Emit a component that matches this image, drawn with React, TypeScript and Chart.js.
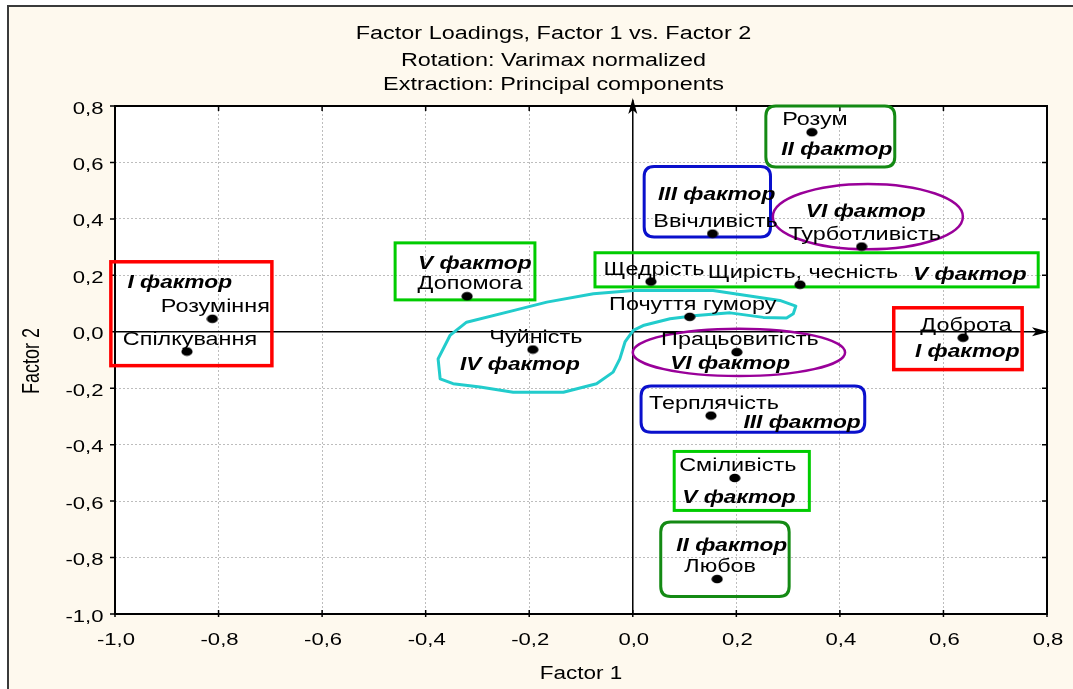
import React, { useEffect, useRef } from 'react';
import { Chart, registerables } from 'chart.js';

Chart.register(...registerables);

// ---------- data ----------
const traits = [
  'Розум', 'Ввічливість', 'Турботливість', 'Щедрість', 'Щирість, чесність',
  'Допомога', 'Розуміння', 'Спілкування', 'Почуття гумору', 'Чуйність',
  'Доброта', 'Працьовитість', 'Терплячість', 'Сміливість', 'Любов',
];
const factor1 = [0.346, 0.154, 0.442, 0.035, 0.323, -0.320, -0.812, -0.861, 0.110, -0.193, 0.638, 0.201, 0.151, 0.197, 0.163];
const factor2 = [0.707, 0.348, 0.302, 0.178, 0.167, 0.126, 0.046, -0.070, 0.053, -0.063, -0.021, -0.072, -0.297, -0.518, -0.876];

const axisMin = -1.0;
const axisMax = 0.8;
const tickStep = 0.2;

const titleLines = ['Factor Loadings, Factor 1 vs. Factor 2', 'Rotation: Varimax normalized', 'Extraction: Principal components'];
const xTitle = 'Factor 1';
const yTitle = 'Factor 2';

// ---------- annotations (data units) ----------
const boxes = [
  { color: '#ff0000', kind: 'rect', x1: -1.008, x2: -0.697, y1: 0.248, y2: -0.120, w: 3.5 },
  { color: '#00cc00', kind: 'rect', x1: -0.459, x2: -0.189, y1: 0.315, y2: 0.113, w: 3 },
  { color: '#00cc00', kind: 'rect', x1: -0.073, x2: 0.783, y1: 0.280, y2: 0.159, w: 3 },
  { color: '#ff0000', kind: 'rect', x1: 0.504, x2: 0.752, y1: 0.085, y2: -0.134, w: 3.5 },
  { color: '#00cc00', kind: 'rect', x1: 0.080, x2: 0.341, y1: -0.424, y2: -0.633, w: 3 },
  { color: '#0a10cc', kind: 'round', x1: 0.022, x2: 0.266, y1: 0.586, y2: 0.336, w: 3 },
  { color: '#148a14', kind: 'round', x1: 0.257, x2: 0.506, y1: 0.800, y2: 0.584, w: 3 },
  { color: '#0a10cc', kind: 'round', x1: 0.016, x2: 0.448, y1: -0.192, y2: -0.356, w: 3 },
  { color: '#148a14', kind: 'round', x1: 0.054, x2: 0.302, y1: -0.674, y2: -0.938, w: 3 },
];
const ellipses = [
  { color: '#990099', cx: 0.454, cy: 0.408, rx: 0.1835, ry: 0.116 },
  { color: '#990099', cx: 0.205, cy: -0.073, rx: 0.205, ry: 0.084 },
];
const blobX = [-0.372, -0.376, -0.353, -0.321, -0.231, -0.166, -0.076, 0.001, 0.155, 0.284, 0.315, 0.310, 0.297, 0.252, 0.188, 0.123, 0.072, 0.020, 0.001, -0.015, -0.025, -0.038, -0.070, -0.134, -0.231, -0.295, -0.347];
const blobY = [-0.167, -0.096, -0.013, 0.034, 0.075, 0.105, 0.135, 0.146, 0.146, 0.111, 0.091, 0.064, 0.049, 0.051, 0.067, 0.058, 0.046, 0.022, 0.005, -0.036, -0.096, -0.143, -0.184, -0.214, -0.214, -0.196, -0.184];
const factorTexts = [
  { text: 'I фактор', x: -0.875, y: 0.156 },
  { text: 'V фактор', x: -0.305, y: 0.223 },
  { text: 'V фактор', x: 0.651, y: 0.184 },
  { text: 'IV фактор', x: -0.218, y: -0.137 },
  { text: 'III фактор', x: 0.162, y: 0.468 },
  { text: 'VI фактор', x: 0.450, y: 0.406 },
  { text: 'II фактор', x: 0.394, y: 0.625 },
  { text: 'I фактор', x: 0.646, y: -0.090 },
  { text: 'VI фактор', x: 0.188, y: -0.131 },
  { text: 'III фактор', x: 0.327, y: -0.341 },
  { text: 'V фактор', x: 0.205, y: -0.606 },
  { text: 'II фактор', x: 0.191, y: -0.775 },
];

const FONT = '"Liberation Sans", Arial, sans-serif';
const SX = 1.3;

function sText(ctx: CanvasRenderingContext2D, text: string, x: number, y: number, font: string, align: CanvasTextAlign = 'center', sx = SX) {
  ctx.save();
  ctx.font = font;
  ctx.textAlign = align;
  ctx.textBaseline = 'alphabetic';
  ctx.fillStyle = '#000';
  ctx.translate(x, y);
  ctx.scale(sx, 1);
  ctx.fillText(text, 0, 0);
  ctx.restore();
}

function fmt(v: number) {
  return v.toFixed(1).replace('.', ',');
}

function roundRectPath(ctx: CanvasRenderingContext2D, x: number, y: number, w: number, h: number, r: number) {
  ctx.beginPath();
  ctx.moveTo(x + r, y);
  ctx.lineTo(x + w - r, y);
  ctx.quadraticCurveTo(x + w, y, x + w, y + r);
  ctx.lineTo(x + w, y + h - r);
  ctx.quadraticCurveTo(x + w, y + h, x + w - r, y + h);
  ctx.lineTo(x + r, y + h);
  ctx.quadraticCurveTo(x, y + h, x, y + h - r);
  ctx.lineTo(x, y + r);
  ctx.quadraticCurveTo(x, y, x + r, y);
  ctx.closePath();
}

const decorPlugin = {
  id: 'decor',
  beforeDraw(chart: any) {
    const { ctx, width, height, chartArea: a } = chart;
    ctx.save();
    ctx.fillStyle = '#ffffff';
    ctx.fillRect(0, 0, width, height);
    ctx.fillStyle = '#fef9ee';
    ctx.fillRect(8, 6, width - 8, height - 6);
    ctx.strokeStyle = '#3a3a3a';
    ctx.lineWidth = 2;
    ctx.beginPath();
    ctx.moveTo(8, height);
    ctx.lineTo(8, 6);
    ctx.lineTo(width, 6);
    ctx.stroke();
    ctx.fillStyle = '#ffffff';
    ctx.fillRect(a.left, a.top, a.right - a.left, a.bottom - a.top);
    ctx.restore();
  },
  beforeDatasetsDraw(chart: any) {
    const { ctx, chartArea: a } = chart;
    const xs = chart.scales.x;
    const ys = chart.scales.y;
    ctx.save();
    // frame
    ctx.strokeStyle = '#000';
    ctx.lineWidth = 2;
    ctx.strokeRect(a.left, a.top, a.right - a.left, a.bottom - a.top);
    ctx.lineWidth = 1.5;
    ctx.beginPath();
    ys.ticks.forEach((t: any) => {
      const py = ys.getPixelForValue(t.value);
      ctx.moveTo(a.left - 5, py); ctx.lineTo(a.left, py);
      ctx.moveTo(a.right - 5, py); ctx.lineTo(a.right, py);
    });
    xs.ticks.forEach((t: any) => {
      const px = xs.getPixelForValue(t.value);
      ctx.moveTo(px, a.bottom + 3); ctx.lineTo(px, a.bottom - 4);
      ctx.moveTo(px, a.top); ctx.lineTo(px, a.top + 5);
    });
    ctx.stroke();

    // axes through zero with arrows
    const x0 = xs.getPixelForValue(0);
    const y0 = ys.getPixelForValue(0);
    ctx.lineWidth = 1.5;
    ctx.beginPath();
    ctx.moveTo(x0, a.bottom); ctx.lineTo(x0, a.top - 6);
    ctx.moveTo(a.left, y0); ctx.lineTo(a.right, y0);
    ctx.stroke();
    ctx.fillStyle = '#000';
    const tipY = a.top - 8;
    ctx.beginPath();
    ctx.moveTo(x0, tipY); ctx.lineTo(x0 - 4.5, tipY + 16); ctx.lineTo(x0, tipY + 12); ctx.lineTo(x0 + 4.5, tipY + 16); ctx.closePath();
    ctx.fill();
    const tipX = a.right + 2;
    ctx.beginPath();
    ctx.moveTo(tipX, y0); ctx.lineTo(tipX - 17, y0 - 4.5); ctx.lineTo(tipX - 13, y0); ctx.lineTo(tipX - 17, y0 + 4.5); ctx.closePath();
    ctx.fill();

    // boxes
    boxes.forEach((b) => {
      const px1 = xs.getPixelForValue(b.x1);
      const px2 = xs.getPixelForValue(b.x2);
      const py1 = ys.getPixelForValue(b.y1);
      const py2 = ys.getPixelForValue(b.y2);
      ctx.strokeStyle = b.color;
      ctx.lineWidth = b.w;
      if (b.kind === 'rect') {
        ctx.strokeRect(px1, py1, px2 - px1, py2 - py1);
      } else {
        roundRectPath(ctx, px1, py1, px2 - px1, py2 - py1, 10);
        ctx.stroke();
      }
    });
    // ellipses
    ellipses.forEach((e) => {
      const cx = xs.getPixelForValue(e.cx);
      const cy = ys.getPixelForValue(e.cy);
      const rx = Math.abs(xs.getPixelForValue(e.cx + e.rx) - cx);
      const ry = Math.abs(ys.getPixelForValue(e.cy + e.ry) - cy);
      ctx.strokeStyle = e.color;
      ctx.lineWidth = 2.5;
      ctx.beginPath();
      ctx.ellipse(cx, cy, rx, ry, 0, 0, Math.PI * 2);
      ctx.stroke();
    });
    // blob
    ctx.strokeStyle = '#22cccc';
    ctx.lineWidth = 3;
    ctx.lineJoin = 'round';
    ctx.beginPath();
    blobX.forEach((bx, i) => {
      const px = xs.getPixelForValue(bx);
      const py = ys.getPixelForValue(blobY[i]);
      if (i === 0) ctx.moveTo(px, py); else ctx.lineTo(px, py);
    });
    ctx.closePath();
    ctx.stroke();
    ctx.restore();
  },
  afterDatasetsDraw(chart: any) {
    const { ctx, chartArea: a, width } = chart;
    const xs = chart.scales.x;
    const ys = chart.scales.y;
    const meta = chart.getDatasetMeta(0);
    meta.data.forEach((el: any, i: number) => {
      sText(ctx, traits[i], el.x + 3, el.y - 7, `18px ${FONT}`);
    });
    factorTexts.forEach((f) => {
      sText(ctx, f.text, xs.getPixelForValue(f.x), ys.getPixelForValue(f.y), `italic bold 17.5px ${FONT}`);
    });
    // tick labels
    ys.ticks.forEach((t: any) => {
      const py = ys.getPixelForValue(t.value);
      sText(ctx, fmt(t.value), a.left - 11.5, py + 7.5, `17px ${FONT}`, 'right');
    });
    xs.ticks.forEach((t: any) => {
      const px = xs.getPixelForValue(t.value);
      sText(ctx, fmt(t.value), px + 1, a.bottom + 31, `17px ${FONT}`, 'center');
    });
    // title
    const tx = width / 2 + 17;
    const baselines = [39, 66, 90];
    titleLines.forEach((line, i) => sText(ctx, line, tx, baselines[i], `18px ${FONT}`));
    // axis titles
    sText(ctx, xTitle, (a.left + a.right) / 2, a.bottom + 65, `18px ${FONT}`, 'center', 1.25);
    ctx.save();
    ctx.font = `18px ${FONT}`;
    ctx.fillStyle = '#000';
    ctx.textAlign = 'center';
    ctx.textBaseline = 'alphabetic';
    ctx.translate(39, (a.top + a.bottom) / 2 + 1);
    ctx.rotate(-Math.PI / 2);
    ctx.scale(1, SX);
    ctx.fillText(yTitle, 0, 0);
    ctx.restore();
  },
};

export default function App() {
  const ref = useRef<HTMLCanvasElement | null>(null);
  useEffect(() => {
    document.body.style.margin = '0';
    const canvas = ref.current;
    if (!canvas) return;
    const dot = document.createElement('canvas');
    dot.width = 12;
    dot.height = 10;
    const dc = dot.getContext('2d')!;
    dc.fillStyle = '#000';
    dc.beginPath();
    dc.ellipse(6, 5, 5.6, 4.3, 0, 0, Math.PI * 2);
    dc.fill();

    const chart = new Chart(canvas, {
      type: 'scatter',
      data: {
        datasets: [{
          label: 'Loadings',
          data: factor1.map((x, i) => ({ x, y: factor2[i] })),
          pointStyle: dot as any,
          pointRadius: 5,
          backgroundColor: '#000',
          borderColor: '#000',
        }],
      },
      options: {
        responsive: false,
        animation: false,
        events: [],
        layout: { padding: { top: 106, right: 26, bottom: 0, left: 0 } },
        plugins: { legend: { display: false }, tooltip: { enabled: false }, title: { display: false } },
        scales: {
          x: {
            type: 'linear', min: axisMin, max: axisMax,
            ticks: { stepSize: tickStep, display: false },
            grid: { color: '#bdbdbd', drawTicks: false, lineWidth: 1 },
            border: { display: false, dash: [2, 2] },
            afterFit: (s: any) => { s.height = 75; },
          },
          y: {
            type: 'linear', min: axisMin, max: axisMax,
            ticks: { stepSize: tickStep, display: false },
            grid: { color: '#bdbdbd', drawTicks: false, lineWidth: 1 },
            border: { display: false, dash: [2, 2] },
            afterFit: (s: any) => { s.width = 115; },
          },
        },
      },
      plugins: [decorPlugin],
    });
    return () => chart.destroy();
  }, []);
  return (
    <div style={{ width: 1073, height: 689 }}>
      <canvas ref={ref} width={1073} height={689} style={{ display: 'block' }} />
    </div>
  );
}
